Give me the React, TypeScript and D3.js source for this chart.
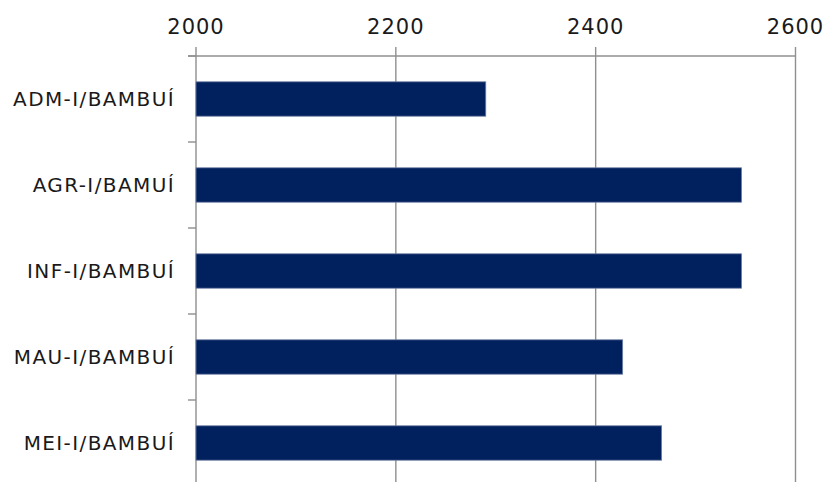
import React from "react";
import * as d3 from "d3";

const categories = ["ADM-I/BAMBUÍ", "AGR-I/BAMUÍ", "INF-I/BAMBUÍ", "MAU-I/BAMBUÍ", "MEI-I/BAMBUÍ"];
const values = [2290, 2546, 2546, 2427, 2466];
const xTicks = [2000, 2200, 2400, 2600];

const W = 827;
const H = 482;
const left = 196;
const right = 795.5;
const top = 56;
const bottom = 486;

export default function App() {
  const x = d3.scaleLinear().domain([2000, 2600]).range([left, right]);
  const y = d3
    .scaleBand<string>()
    .domain(categories)
    .range([top, bottom])
    .paddingInner(0.6)
    .paddingOuter(0.3);
  const step = y.step();
  const boundaries = d3.range(categories.length + 1).map((i) => top + i * step);
  const grid = "#8f8f8f";
  const font = "'DejaVu Sans', sans-serif";

  return (
    <svg
      width={W}
      height={H}
      style={{ position: "fixed", top: 0, left: 0, background: "#fff" }}
    >
      {/* vertical gridlines + top ticks */}
      {xTicks.map((t) => (
        <g key={t}>
          <line x1={x(t)} x2={x(t)} y1={47} y2={H} stroke={grid} strokeWidth={1.4} />
          <text
            x={x(t)}
            y={34}
            textAnchor="middle"
            fontFamily={font}
            fontSize={21}
            letterSpacing={1}
            fill="#1a1a1a"
          >
            {t}
          </text>
        </g>
      ))}
      {/* top axis line */}
      <line x1={188} x2={right} y1={top} y2={top} stroke={grid} strokeWidth={1.4} />
      {/* left axis ticks */}
      {boundaries.map((b, i) => (
        <line key={i} x1={188} x2={left} y1={b} y2={b} stroke={grid} strokeWidth={1.4} />
      ))}
      {/* bars */}
      {categories.map((c, i) => (
        <rect
          key={c}
          x={x(2000)}
          y={y(c)!}
          width={x(values[i]) - x(2000)}
          height={y.bandwidth()}
          fill="#00215E"
          stroke="#6f7fa3"
          strokeWidth={0.8}
        />
      ))}
      {/* category labels */}
      {categories.map((c) => (
        <text
          key={c}
          x={175}
          y={y(c)! + y.bandwidth() / 2}
          dy="0.36em"
          textAnchor="end"
          fontFamily={font}
          fontSize={20}
          letterSpacing={1.4}
          fill="#1a1a1a"
        >
          {c}
        </text>
      ))}
    </svg>
  );
}
